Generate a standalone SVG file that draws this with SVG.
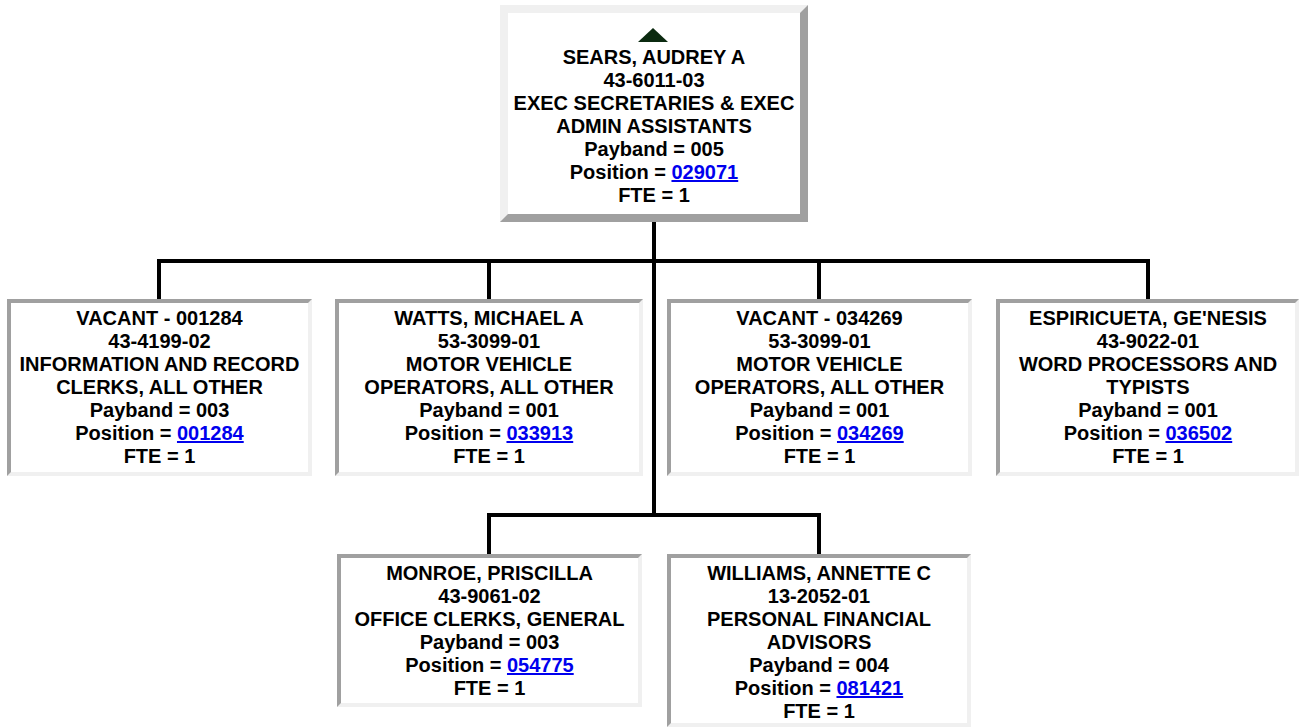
<svg xmlns="http://www.w3.org/2000/svg" width="1299" height="728" viewBox="0 0 1299 728">
<style>
text{font-family:"Liberation Sans",Arial,sans-serif;font-weight:bold;font-size:20px;fill:#000;text-anchor:middle}
.lk{fill:#0000ee;text-decoration:underline}
.lt{fill:#f0f0f0}
.dk{fill:#a0a0a0}
.in{fill:#ffffff}
.con{fill:none;stroke:#000;stroke-width:4;stroke-linejoin:miter;stroke-linecap:square}
</style>
<rect width="1299" height="728" fill="#ffffff"/>
<g id="connectors">
<path class="con" d="M159,299 V261 H1148 V299"/>
<path class="con" d="M489,299 V261"/>
<path class="con" d="M819,299 V261"/>
<path class="con" d="M654,222 V515"/>
<path class="con" d="M489,554 V515 H819 V554"/>
</g>
<g id="n-sears">
<rect class="dk" x="500" y="5" width="308" height="217"/>
<polygon class="lt" points="500,5 808,5 800,13 508,13 508,214 500,222"/>
<rect class="in" x="508" y="13" width="292" height="201"/>
<polygon points="653,28 668,42 638,42" fill="#0b2a10"/>
<text x="654" y="64">SEARS, AUDREY A</text>
<text x="654" y="87">43-6011-03</text>
<text x="654" y="110">EXEC SECRETARIES &amp; EXEC</text>
<text x="654" y="133">ADMIN ASSISTANTS</text>
<text x="654" y="156">Payband = 005</text>
<text x="654" y="179">Position = <tspan class="lk">029071</tspan></text>
<text x="654" y="202">FTE = 1</text>
</g>
<g id="n-vacant-001284">
<rect class="lt" x="7" y="299" width="305" height="177"/>
<polygon class="dk" points="7,299 312,299 308,303 11,303 11,472 7,476"/>
<rect class="in" x="11" y="303" width="297" height="169"/>
<text x="159.5" y="325">VACANT - 001284</text>
<text x="159.5" y="348">43-4199-02</text>
<text x="159.5" y="371">INFORMATION AND RECORD</text>
<text x="159.5" y="394">CLERKS, ALL OTHER</text>
<text x="159.5" y="417">Payband = 003</text>
<text x="159.5" y="440">Position = <tspan class="lk">001284</tspan></text>
<text x="159.5" y="463">FTE = 1</text>
</g>
<g id="n-watts">
<rect class="lt" x="335" y="299" width="308" height="177"/>
<polygon class="dk" points="335,299 643,299 639,303 339,303 339,472 335,476"/>
<rect class="in" x="339" y="303" width="300" height="169"/>
<text x="489" y="325">WATTS, MICHAEL A</text>
<text x="489" y="348">53-3099-01</text>
<text x="489" y="371">MOTOR VEHICLE</text>
<text x="489" y="394">OPERATORS, ALL OTHER</text>
<text x="489" y="417">Payband = 001</text>
<text x="489" y="440">Position = <tspan class="lk">033913</tspan></text>
<text x="489" y="463">FTE = 1</text>
</g>
<g id="n-vacant-034269">
<rect class="lt" x="667" y="299" width="305" height="177"/>
<polygon class="dk" points="667,299 972,299 968,303 671,303 671,472 667,476"/>
<rect class="in" x="671" y="303" width="297" height="169"/>
<text x="819.5" y="325">VACANT - 034269</text>
<text x="819.5" y="348">53-3099-01</text>
<text x="819.5" y="371">MOTOR VEHICLE</text>
<text x="819.5" y="394">OPERATORS, ALL OTHER</text>
<text x="819.5" y="417">Payband = 001</text>
<text x="819.5" y="440">Position = <tspan class="lk">034269</tspan></text>
<text x="819.5" y="463">FTE = 1</text>
</g>
<g id="n-espiricueta">
<rect class="lt" x="996" y="299" width="303" height="177"/>
<polygon class="dk" points="996,299 1299,299 1295,303 1000,303 1000,472 996,476"/>
<rect class="in" x="1000" y="303" width="295" height="169"/>
<text x="1148" y="325">ESPIRICUETA, GE'NESIS</text>
<text x="1148" y="348">43-9022-01</text>
<text x="1148" y="371">WORD PROCESSORS AND</text>
<text x="1148" y="394">TYPISTS</text>
<text x="1148" y="417">Payband = 001</text>
<text x="1148" y="440">Position = <tspan class="lk">036502</tspan></text>
<text x="1148" y="463">FTE = 1</text>
</g>
<g id="n-monroe">
<rect class="lt" x="337" y="554" width="305" height="153"/>
<polygon class="dk" points="337,554 642,554 638,558 341,558 341,703 337,707"/>
<rect class="in" x="341" y="558" width="297" height="145"/>
<text x="489.5" y="580">MONROE, PRISCILLA</text>
<text x="489.5" y="603">43-9061-02</text>
<text x="489.5" y="626">OFFICE CLERKS, GENERAL</text>
<text x="489.5" y="649">Payband = 003</text>
<text x="489.5" y="672">Position = <tspan class="lk">054775</tspan></text>
<text x="489.5" y="695">FTE = 1</text>
</g>
<g id="n-williams">
<rect class="lt" x="667" y="554" width="304" height="173"/>
<polygon class="dk" points="667,554 971,554 967,558 671,558 671,723 667,727"/>
<rect class="in" x="671" y="558" width="296" height="165"/>
<text x="819" y="580">WILLIAMS, ANNETTE C</text>
<text x="819" y="603">13-2052-01</text>
<text x="819" y="626">PERSONAL FINANCIAL</text>
<text x="819" y="649">ADVISORS</text>
<text x="819" y="672">Payband = 004</text>
<text x="819" y="695">Position = <tspan class="lk">081421</tspan></text>
<text x="819" y="718">FTE = 1</text>
</g>
</svg>
